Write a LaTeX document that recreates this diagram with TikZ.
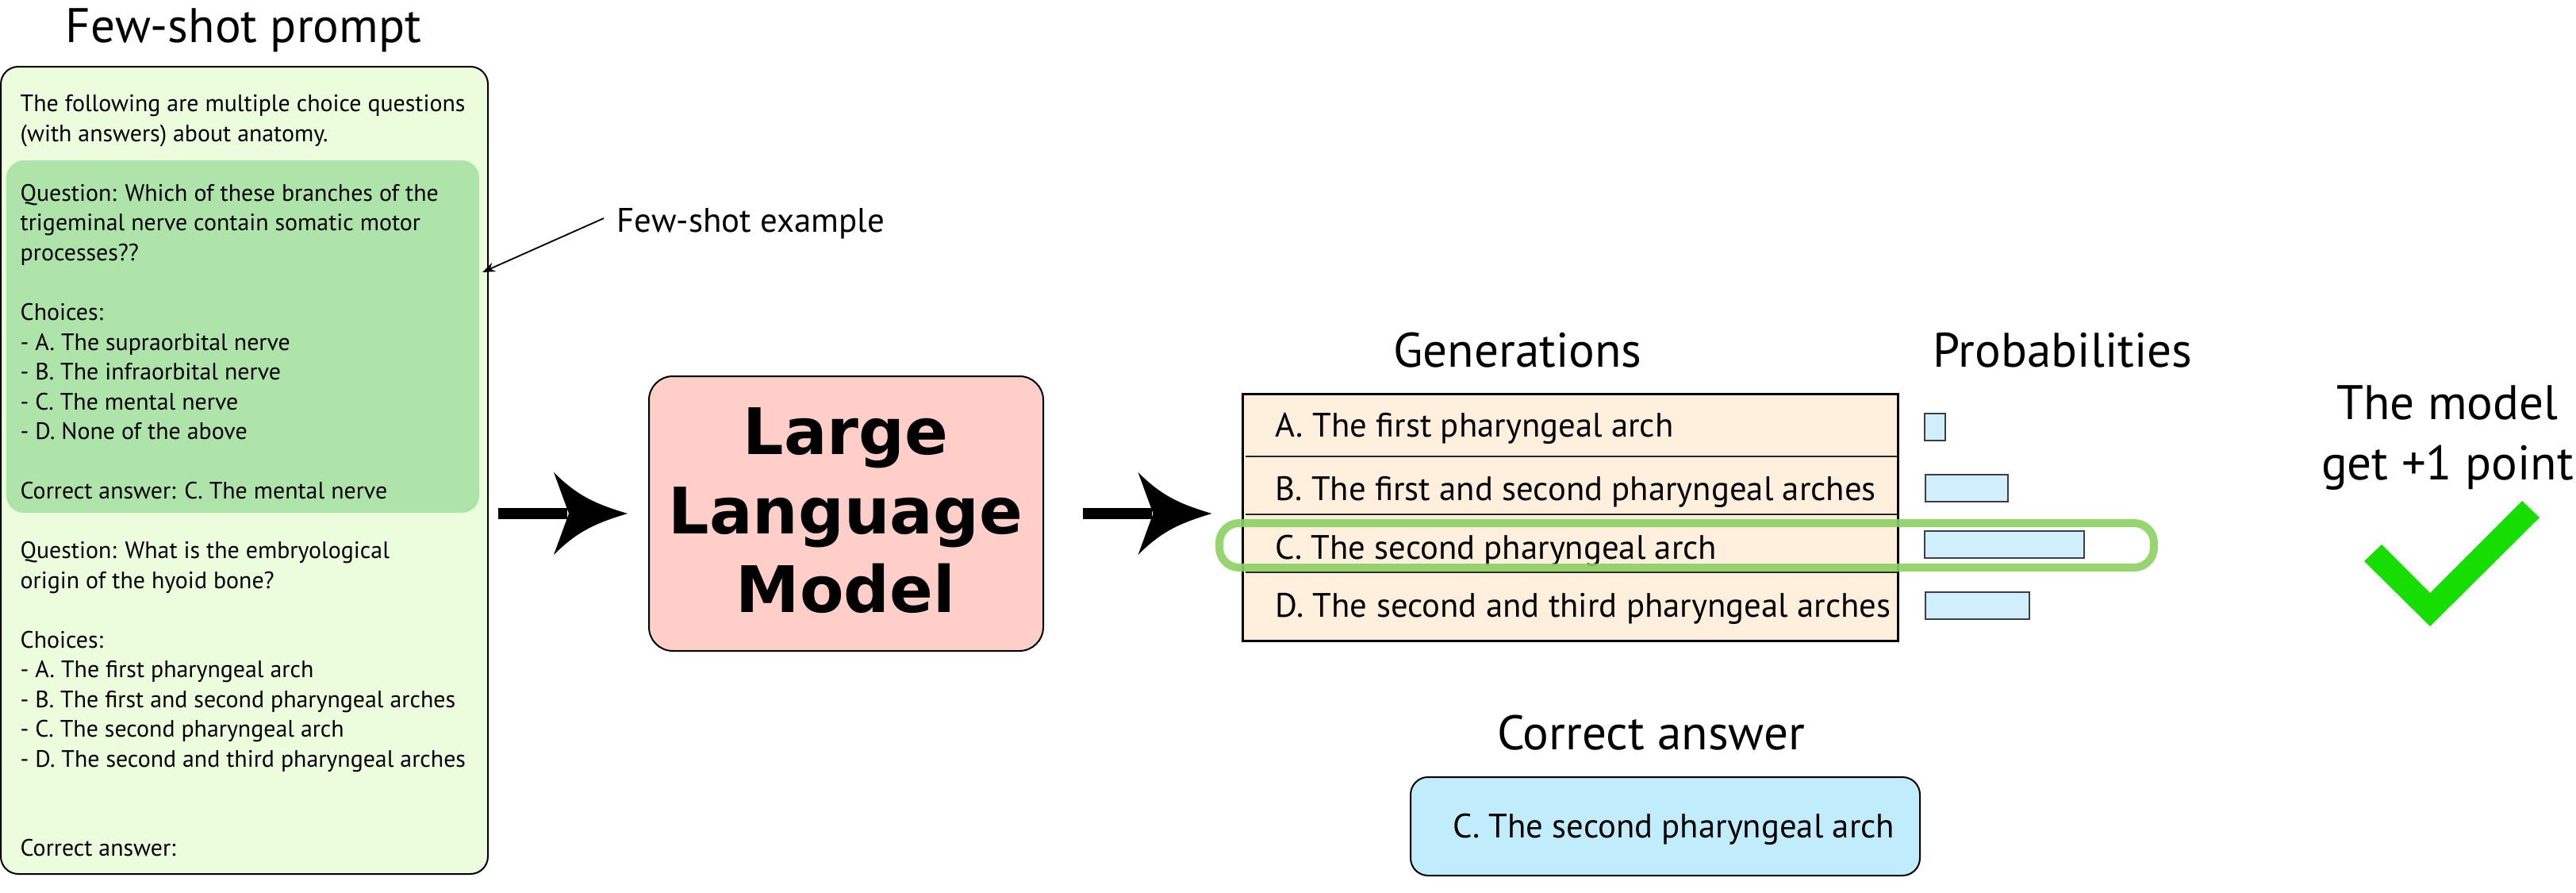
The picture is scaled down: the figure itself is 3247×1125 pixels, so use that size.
\documentclass[tikz,border=0pt]{standalone}
\usepackage{fontspec}
\setmainfont{PT Sans}
\newfontfamily\llmfont{DejaVu Sans}
\usetikzlibrary{arrows.meta,calc}
\definecolor{promptbg}{RGB}{236,253,221}
\definecolor{shotbg}{RGB}{174,228,170}
\definecolor{llmbg}{RGB}{255,206,200}
\definecolor{tablebg}{RGB}{255,239,220}
\definecolor{barbg}{RGB}{209,238,252}
\definecolor{barline}{RGB}{60,64,70}
\definecolor{answerbg}{RGB}{192,236,252}
\definecolor{ringgreen}{RGB}{140,208,98}
\definecolor{checkgreen}{RGB}{22,222,0}
\begin{document}
\begin{tikzpicture}[x=0.1mm,y=-0.1mm,
  title/.style={font=\fontsize{17.4pt}{20pt}\selectfont, inner sep=0pt, anchor=base},
  ptext/.style={font=\fontsize{8.5pt}{10pt}\selectfont, inner sep=0pt, anchor=base west},
  rowtext/.style={font=\fontsize{12.15pt}{15pt}\selectfont, inner sep=0pt, anchor=base west},
  notetext/.style={font=\fontsize{12.2pt}{14pt}\selectfont, inner sep=0pt, anchor=base west},
  llmtext/.style={font={\llmfont\bfseries\fontsize{23pt}{28pt}\selectfont}, inner sep=0pt, anchor=base},
  box/.style={draw=black, line width=0.2mm, inner sep=0pt},
  bar/.style={draw=barline, fill=barbg, line width=0.15mm},
  bigshaft/.style={line width=1.4mm},
  leader/.style={line width=0.18mm, -{Stealth[length=1.6mm,width=1.2mm]}},
  rowline/.style={line width=0.2mm, black!85},
  ring/.style={draw=ringgreen, line width=1mm, rounded corners=2.5mm, draw opacity=0.9},
  bighead/.pic={\fill (0,0) .. controls (-40,-12) and (-63,-22) .. (-93,-52) -- (-74,0) -- (-93,52) .. controls (-63,22) and (-40,12) .. (0,0) -- cycle;}
]
\useasboundingbox (0,0) rectangle (3247,1125);

% ---------- few-shot prompt ----------
\node[box, fill=promptbg, rounded corners=2.2mm, minimum width=61.4mm, minimum height=101.7mm] (prompt) at (308,592.5) {};
\node[fill=shotbg, rounded corners=2.2mm, minimum width=59.6mm, minimum height=44.4mm, inner sep=0pt] (shot) at (306,424) {};
\node[title] (ptitle) at (307,54) {Few-shot prompt};
\foreach \k/\t [count=\i] in {
  0/{The following are multiple choice questions},
  1/{(with answers) about anatomy.},
  3/{Question: Which of these branches of the},
  4/{trigeminal nerve contain somatic motor},
  5/{processes??},
  7/{Choices:},
  8/{- A. The supraorbital nerve},
  9/{- B. The infraorbital nerve},
  10/{- C. The mental nerve},
  11/{- D. None of the above},
  13/{Correct answer: C. The mental nerve},
  15/{Question: What is the embryological},
  16/{origin of the hyoid bone?},
  18/{Choices:},
  19/{- A. The first pharyngeal arch},
  20/{- B. The first and second pharyngeal arches},
  21/{- C. The second pharyngeal arch},
  22/{- D. The second and third pharyngeal arches},
  25/{Correct answer:}}
  \node[ptext] (pl\i) at (25,{141+37.5*\k}) {\t};

% ---------- few-shot example note ----------
\node[notetext] (fse) at (777,293) {Few-shot example};
\coordinate (fsestart) at ($(fse.base west)+(-16,-18)$);
\coordinate (fsetip) at (608,343);
\draw[leader] (fsestart) -- (fsetip);

% ---------- LLM ----------
\node[box, fill=llmbg, rounded corners=3mm, minimum width=49.7mm, minimum height=34.6mm] (llm) at (1066.5,647) {};
\node[llmtext] (llm1) at (1066,572) {Large};
\node[llmtext] (llm2) at (1066,672) {Language};
\node[llmtext] (llm3) at (1066,771) {Model};

% ---------- generations table ----------
\node[title] (gen) at (1913,462) {Generations};
\node[title] (prob) at (2600,462) {Probabilities};
\node[draw=black, line width=0.3mm, fill=tablebg, minimum width=82.6mm, minimum height=31.1mm, inner sep=0pt] (gtable) at (1979,651.5) {};
\draw[rowline] (1570,575) -- (2392,575);
\draw[rowline] (1570,648) -- (2392,648);
\draw[rowline] (1570,721) -- (2392,721);
\node[rowtext] (r1) at (1607,550) {A. The first pharyngeal arch};
\node[rowtext] (r2) at (1607,630) {B. The first and second pharyngeal arches};
\node[rowtext] (r3) at (1607,704) {C. The second pharyngeal arch};
\node[rowtext] (r4) at (1607,777) {D. The second and third pharyngeal arches};
\draw[bar] (2426,521) rectangle (2452,555);
\draw[bar] (2427,598) rectangle (2531,632);
\draw[bar] (2426,669) rectangle (2627,703);
\draw[bar] (2427,746) rectangle (2558,780);
\draw[ring] (1537,659) rectangle (2715,715);

% ---------- arrows ----------
\coordinate (a1s) at ($(prompt.east |- llm.west)+(12,0)$);
\coordinate (a1t) at ($(llm.west)+(-26,0)$);
\draw[bigshaft] (a1s) -- ($(a1t)+(-76,0)$);
\pic at (a1t) {bighead};
\coordinate (a2s) at ($(llm.east)+(49,0)$);
\coordinate (a2t) at ($(gtable.west |- llm.east)+(-37,0)$);
\draw[bigshaft] (a2s) -- ($(a2t)+(-76,0)$);
\pic at (a2t) {bighead};

% ---------- correct answer ----------
\node[title] (catitle) at (2081,944) {Correct answer};
\node[box, fill=answerbg, rounded corners=2.2mm, minimum width=64.2mm, minimum height=12.4mm] (cabox) at (2099,1041) {};
\node[rowtext] (catext) at (1831,1055) {C. The second pharyngeal arch};

% ---------- result ----------
\node[title] (res1) at (3085,528) {The model};
\node[title] (res2) at (3085,604) {get +1 point};
\fill[checkgreen] (2980,707) -- (3002,686) -- (3063,747) -- (3179,631) -- (3201,652) -- (3063,789) -- cycle;
\end{tikzpicture}
\end{document}
